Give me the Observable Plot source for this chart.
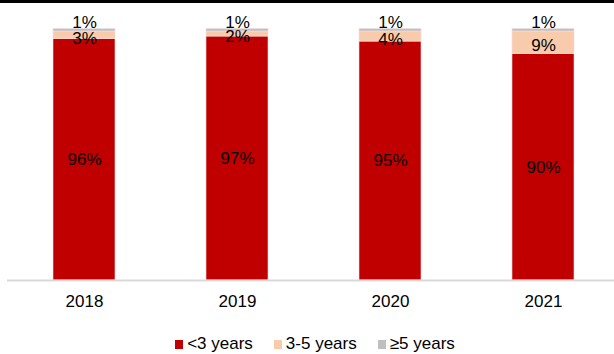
<!DOCTYPE html>
<html>
<head>
<meta charset="utf-8">
<script src="https://cdn.jsdelivr.net/npm/d3@7"></script>
<script src="https://cdn.jsdelivr.net/npm/@observablehq/plot@0.6"></script>
<style>
  html, body { margin: 0; padding: 0; background: #fff; width: 614px; height: 354px; overflow: hidden; }
  #wrap { position: relative; width: 614px; height: 354px; border-top: 3px solid #000; box-sizing: border-box; }
  #chart svg { display: block; overflow: visible; }
  #legend { position: absolute; top: 331px; left: 0; width: 614px; display: flex; justify-content: center; gap: 21px;
    font-family: "Liberation Sans", Arial, sans-serif; font-size: 17px; color: #000; padding-left: 16px; box-sizing: border-box; }
  .item { display: flex; align-items: center; gap: 4px; }
  .sw { width: 8px; height: 9px; display: inline-block; }
</style>
</head>
<body>
<div id="wrap">
  <div id="chart"></div>
  <div id="legend"></div>
</div>
<script>
const years = ["2018", "2019", "2020", "2021"];
const series = ["<3 years", "3-5 years", "≥5 years"];
const under3 = [96, 97, 95, 90];
const from3to5 = [3, 2, 4, 9];
const over5 = [1, 1, 1, 1];
const colors = ["#C00000", "#F8CBAD", "#BFBFBF"];

const values = [under3, from3to5, over5];
const data = [];
series.forEach((s, si) => {
  years.forEach((y, yi) => data.push({year: y, series: s, value: values[si][yi]}));
});

const labels = [];
years.forEach((y, yi) => {
  let base = 0;
  series.forEach((s, si) => {
    const v = values[si][yi];
    labels.push({year: y, series: s, value: v, mid: base + v / 2, top: base + v});
    base += v;
  });
});

const plot = Plot.plot({
  width: 614,
  height: 317,
  marginTop: 25.5,
  marginBottom: 40,
  marginLeft: 7,
  marginRight: -5,
  style: {fontFamily: "'Liberation Sans', Arial, sans-serif", fontSize: "17px", color: "#000", background: "transparent"},
  x: {domain: years, paddingInner: 0.595, paddingOuter: 0.2975, label: null},
  y: {domain: [0, 100], axis: null},
  color: {domain: series, range: colors},
  marks: [
    Plot.barY(data, Plot.stackY({x: "year", y: "value", fill: "series", order: series, stroke: "#f4dede", strokeWidth: 0.6})),
    Plot.ruleY([0], {stroke: "#d9d9d9", strokeWidth: 2}),
    Plot.text(labels.filter(d => d.series === "<3 years"), {x: "year", y: "mid", text: d => d.value + "%", fill: "#000", fontSize: 17}),
    Plot.text(labels.filter(d => d.series === "3-5 years"), {x: "year", y: "mid", text: d => d.value + "%", fill: "#000", fontSize: 17, dy: 3}),
    Plot.text(labels.filter(d => d.series === "≥5 years"), {x: "year", y: "top", text: d => d.value + "%", fill: "#000", fontSize: 17, dy: -6}),
    Plot.axisX({tickSize: 0, tickPadding: 14, fontSize: 17, label: null})
  ]
});
document.getElementById("chart").appendChild(plot);

const legend = document.getElementById("legend");
series.forEach((s, i) => {
  const item = document.createElement("div");
  item.className = "item";
  const sw = document.createElement("span");
  sw.className = "sw";
  sw.style.background = colors[i];
  const t = document.createElement("span");
  t.textContent = s;
  item.appendChild(sw);
  item.appendChild(t);
  legend.appendChild(item);
});
</script>
</body>
</html>
